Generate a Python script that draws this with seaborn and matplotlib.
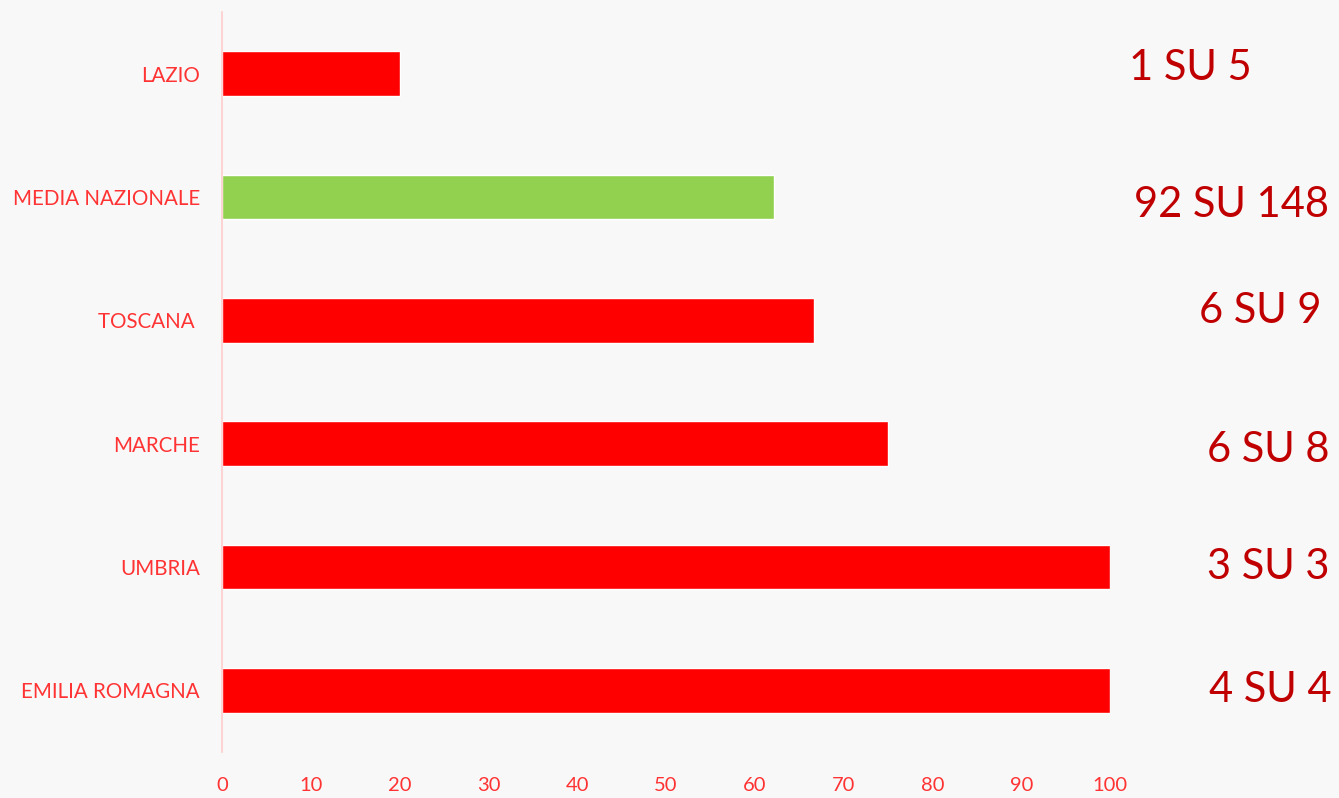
import seaborn as sns
import matplotlib.pyplot as plt
import pandas as pd

# data
regions = ['LAZIO', 'MEDIA NAZIONALE', 'TOSCANA ', 'MARCHE', 'UMBRIA', 'EMILIA ROMAGNA']
percent = [20, 92 / 148 * 100, 6 / 9 * 100, 6 / 8 * 100, 100, 100]
ratio_labels = ['1 SU 5', '92 SU 148', '6 SU 9', '6 SU 8', '3 SU 3', '4 SU 4']
bar_colors = ['#FF0000', '#92D050', '#FF0000', '#FF0000', '#FF0000', '#FF0000']
x_ticks = [0, 10, 20, 30, 40, 50, 60, 70, 80, 90, 100]

df = pd.DataFrame({'region': regions, 'percent': percent})

sns.set_style('white')
plt.rcParams['font.family'] = ['Lato', 'DejaVu Sans']

fig = plt.figure(figsize=(13.39, 7.98), dpi=100, facecolor='#F8F8F8')
ax = fig.add_axes([0.1658, 0.0576, 0.6632, 0.9274])
ax.set_facecolor('#F8F8F8')

sns.barplot(data=df, x='percent', y='region', hue='region', palette=bar_colors,
            legend=False, width=0.36, orient='h', ax=ax, saturation=1)

ax.set_xlim(0, 100)
ax.set_ylim(5.5, -0.5)
ax.set_xticks(x_ticks)
ax.set_xlabel('')
ax.set_ylabel('')
ax.tick_params(axis='x', length=0, labelsize=14.5, labelcolor='#FF3333', pad=18)
ax.tick_params(axis='y', length=0, labelsize=14.8, labelcolor='#FF3333', pad=16)

for side in ['top', 'right', 'bottom']:
    ax.spines[side].set_visible(False)
ax.spines['left'].set_color('#FFCCCC')
ax.spines['left'].set_linewidth(1.2)
ax.spines['left'].set_bounds(5.5, -0.5)

# ratio labels on the right (figure-pixel positions)
label_x = [1129, 1134, 1199, 1207, 1207, 1209]
label_y = [68, 205, 311, 450, 567, 690]
for txt, lx, ly in zip(ratio_labels, label_x, label_y):
    fig.text(lx / 1339, 1 - ly / 798, txt, ha='left', va='center',
             fontsize=30, color='#C00000')

plt.savefig('out.png', dpi=100, facecolor=fig.get_facecolor())
